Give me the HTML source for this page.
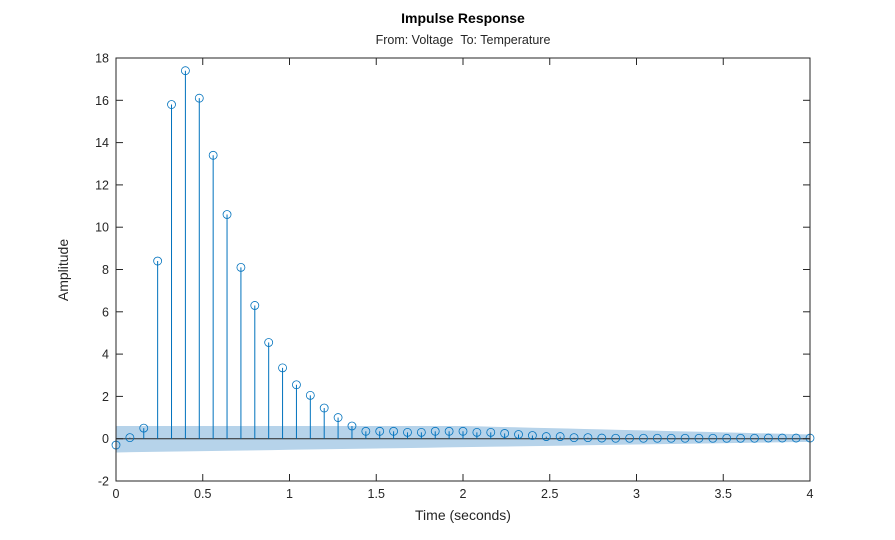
<!DOCTYPE html>
<html><head><meta charset="utf-8"><style>
html,body{margin:0;padding:0;background:#fff;}
svg{display:block;font-family:"Liberation Sans",Arial,sans-serif;}
</style></head><body>
<svg id="s" width="895" height="540" viewBox="0 0 895 540" xmlns="http://www.w3.org/2000/svg">
<rect width="895" height="540" fill="#fff"/>
<text x="463" y="23" font-size="14" font-weight="bold" text-anchor="middle" fill="#000">Impulse Response</text>
<text x="463" y="44" font-size="12.5" text-anchor="middle" fill="#262626">From: Voltage &#160;To: Temperature</text>
<text x="463" y="520" font-size="14" text-anchor="middle" fill="#262626">Time (seconds)</text>
<text transform="translate(68,270) rotate(-90)" font-size="14" text-anchor="middle" fill="#262626">Amplitude</text>
<g id="band"></g>
<line x1="116" y1="438.7" x2="810" y2="438.7" stroke="#262626" stroke-width="1"/>
<g id="stems"></g>
<rect x="116" y="58" width="694" height="423" fill="none" stroke="#262626" stroke-width="1"/>
<g id="ticks" font-size="12.5" fill="#262626"></g>
</svg>
<script>
(function(){
var NS="http://www.w3.org/2000/svg";
function X(t){return 116+t*173.5;}
function Y(v){return 438.7-v*21.15;}
function el(p,n,a){var e=document.createElementNS(NS,n);for(var k in a)e.setAttribute(k,a[k]);p.appendChild(e);return e;}
var vals=[-0.3,0.05,0.5,8.4,15.8,17.4,16.1,13.4,10.6,8.1,6.3,4.55,3.35,2.55,2.05,1.45,1.0,0.6,0.35,0.35,0.35,0.3,0.3,0.35,0.35,0.35,0.3,0.3,0.25,0.2,0.15,0.1,0.1,0.05,0.05,0.03,0.02,0.02,0.02,0.02,0.02,0.02,0.02,0.02,0.02,0.02,0.02,0.03,0.03,0.03,0.03];
var up=[],dn=[];
for(var i=0;i<=40;i++){var t=i*0.1;
 var u=t<2?0.6:0.6-(t-2)*0.2;
 var l=-0.65+t*0.125;
 up.push(X(t)+","+Y(u));dn.unshift(X(t)+","+Y(l));}
el(document.getElementById("band"),"polygon",{points:up.concat(dn).join(" "),fill:"#b6d3ea",stroke:"none"});
var g=document.getElementById("stems");
for(var i=0;i<vals.length;i++){var t=i*0.08,x=X(t),y=Y(vals[i]);
 el(g,"line",{x1:x,y1:438.7,x2:x,y2:y,stroke:"#0072BD","stroke-width":1});
 el(g,"circle",{cx:x,cy:y,r:4,fill:"none",stroke:"#0072BD","stroke-width":0.8});}
var tk=document.getElementById("ticks");
for(var i=0;i<=8;i++){var t=i*0.5,x=X(t);
 el(tk,"line",{x1:x,y1:481,x2:x,y2:474,stroke:"#262626"});
 el(tk,"line",{x1:x,y1:58,x2:x,y2:65,stroke:"#262626"});
 var s=el(tk,"text",{x:x,y:498,"text-anchor":"middle"});s.textContent=String(t);}
for(var v=-2;v<=18;v+=2){var y=Y(v);
 el(tk,"line",{x1:116,y1:y,x2:123,y2:y,stroke:"#262626"});
 el(tk,"line",{x1:810,y1:y,x2:803,y2:y,stroke:"#262626"});
 var s=el(tk,"text",{x:109,y:y+4.5,"text-anchor":"end"});s.textContent=String(v);}
})();
</script>
</body></html>
